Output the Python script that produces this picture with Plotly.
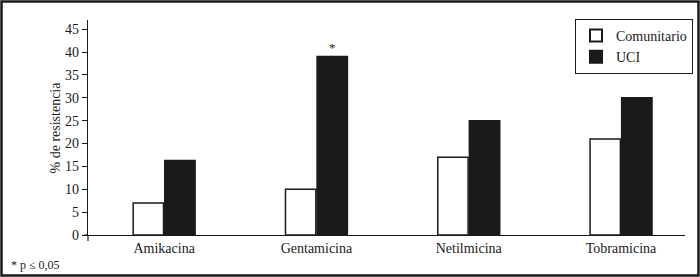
import plotly.graph_objects as go

categories = ["Amikacina", "Gentamicina", "Netilmicina", "Tobramicina"]
comunitario = [7, 10, 17, 21]
uci = [16.3, 39, 25, 30]
y_ticks = [0, 5, 10, 15, 20, 25, 30, 35, 40, 45]

FONT = "Liberation Serif"

fig = go.Figure()
fig.add_trace(go.Bar(name="Comunitario", x=categories, y=comunitario,
                     marker=dict(color="white", line=dict(color="#1a1a1a", width=1.5))))
fig.add_trace(go.Bar(name="UCI", x=categories, y=uci,
                     marker=dict(color="#1a1a1a", line=dict(color="#1a1a1a", width=1.5))))

L, R, T, B = 88, 15, 20, 42
W, H = 700, 277
pw, ph = W - L - R, H - T - B

def px_x(px):
    return (px - L) / pw

def px_y(py):
    return (H - B - py) / ph

fig.update_layout(
    width=W, height=H,
    margin=dict(l=L, r=R, t=T, b=B, autoexpand=False),
    plot_bgcolor="white", paper_bgcolor="white",
    barmode="group", bargap=0.585, bargroupgap=0.04,
    font=dict(family=FONT, size=14, color="#1a1a1a"),
    showlegend=True,
    legend=dict(xref="container", yref="container",
                x=575 / W, y=1 - 19 / H, xanchor="left", yanchor="top",
                bordercolor="#1a1a1a", borderwidth=1, bgcolor="white",
                font=dict(family=FONT, size=14, color="#1a1a1a"),
                itemsizing="constant", tracegroupgap=0),
    xaxis=dict(range=[-0.5, 3.42], showline=True, linecolor="#1a1a1a", linewidth=1.2,
               ticks="", showgrid=False, zeroline=False,
               tickfont=dict(family=FONT, size=14)),
    yaxis=dict(range=[0, 47], tickvals=y_ticks, showline=True, linecolor="#1a1a1a",
               linewidth=1.2, ticks="outside", ticklen=5, tickcolor="#1a1a1a",
               showgrid=False, zeroline=False, tickfont=dict(family=FONT, size=14)),
)

fig.add_annotation(x="Gentamicina", y=uci[1], xref="x", yref="y", text="*",
                   showarrow=False, xshift=16, yanchor="bottom", yshift=0,
                   font=dict(family=FONT, size=13))
fig.add_annotation(x=px_x(45), y=px_y(128), xref="paper", yref="paper",
                   text="% de resistencia", textangle=-90, showarrow=False,
                   font=dict(family=FONT, size=14))
fig.add_annotation(x=px_x(9), y=px_y(265), xref="paper", yref="paper",
                   text="* p ≤ 0,05", showarrow=False, xanchor="left", yanchor="middle",
                   font=dict(family=FONT, size=12))

# outer frame
fig.add_shape(type="rect", xref="paper", yref="paper",
              x0=px_x(1.5), x1=px_x(698.5), y0=px_y(275.5), y1=px_y(1.5),
              line=dict(color="#1a1a1a", width=2.5), layer="above")
# x-axis extension left of y axis and y-axis extension below x axis
fig.add_shape(type="line", xref="paper", yref="paper",
              x0=px_x(84), x1=0, y0=0, y1=0, line=dict(color="#1a1a1a", width=1.2))
fig.add_shape(type="line", xref="paper", yref="paper",
              x0=0, x1=0, y0=0, y1=px_y(241), line=dict(color="#1a1a1a", width=1.2))

fig.write_html("out.html", config={"displayModeBar": False},
               post_script="document.body.style.margin='0';document.body.style.overflow='hidden';")
